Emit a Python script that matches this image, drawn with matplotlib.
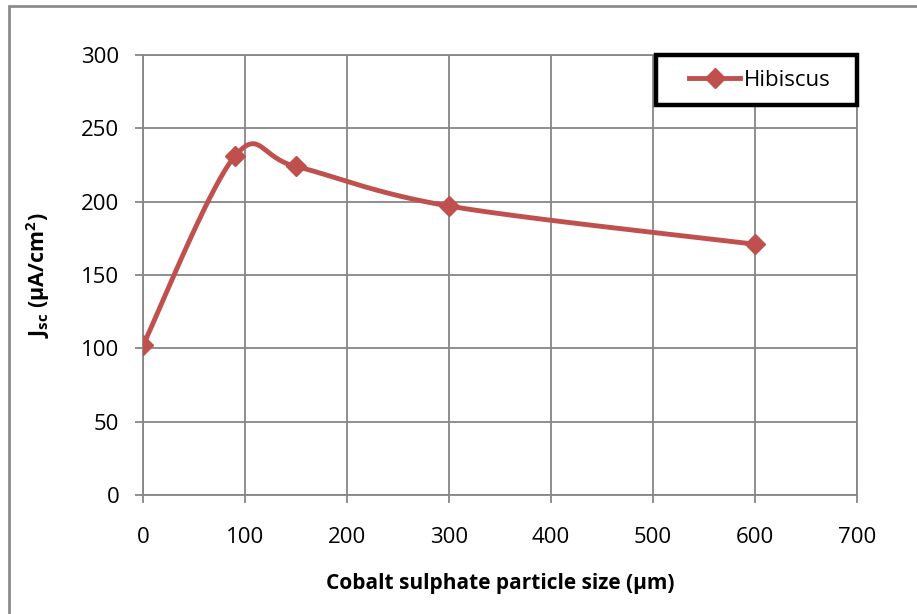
import numpy as np
import matplotlib.pyplot as plt
from matplotlib.patches import Rectangle

# data
size_um = [0, 90, 150, 300, 600]
jsc = [102, 231, 224, 197, 171]
series_name = 'Hibiscus'

plt.rcParams['font.family'] = ['Open Sans', 'DejaVu Sans']
plt.rcParams['mathtext.fontset'] = 'custom'
plt.rcParams['mathtext.rm'] = 'Open Sans'
plt.rcParams['mathtext.bf'] = 'Open Sans:bold'
plt.rcParams['mathtext.it'] = 'Open Sans:italic'


def excel_smooth(x, y, n=60):
    # bezier with Catmull-Rom style control points (like Excel's smoothed line)
    x = np.asarray(x, float)
    y = np.asarray(y, float)
    px = np.concatenate([[x[0]], x, [x[-1]]])
    py = np.concatenate([[y[0]], y, [y[-1]]])
    xs, ys = [], []
    t = np.linspace(0, 1, n)
    for i in range(1, len(px) - 2):
        p0 = np.array([px[i], py[i]])
        p3 = np.array([px[i + 1], py[i + 1]])
        c1 = p0 + (np.array([px[i + 1], py[i + 1]]) - np.array([px[i - 1], py[i - 1]])) / 6
        c2 = p3 - (np.array([px[i + 2], py[i + 2]]) - np.array([px[i], py[i]])) / 6
        b = ((1 - t) ** 3)[:, None] * p0 + (3 * (1 - t) ** 2 * t)[:, None] * c1 \
            + (3 * (1 - t) * t ** 2)[:, None] * c2 + (t ** 3)[:, None] * p3
        xs.extend(b[:, 0])
        ys.extend(b[:, 1])
    return np.array(xs), np.array(ys)


red = '#C0504D'
grey = '#868686'

fig = plt.figure(figsize=(9.17, 6.14), dpi=100)
fig.patches.append(Rectangle((9 / 917, -0.1), 1.2, (1 - 6 / 614) + 0.1,
                             transform=fig.transFigure, fill=False,
                             edgecolor='#8c8c8c', linewidth=2))
ax = fig.add_axes([143 / 917, 1 - 495 / 614, 714 / 917, 440 / 614])

sx, sy = excel_smooth(size_um, jsc)
ax.plot(sx, sy, color=red, linewidth=3.5, solid_capstyle='round', zorder=3)
ax.plot(size_um, jsc, linestyle='none', marker='D', markersize=10,
        color=red, zorder=4)
ax.plot([], [], color=red, linewidth=3.5, marker='D', markersize=10,
        label=series_name)

ax.set_xlim(0, 700)
ax.set_ylim(0, 300)
ax.set_xticks(np.arange(0, 701, 100))
ax.set_yticks(np.arange(0, 301, 50))
ax.grid(True, color=grey, linewidth=1.3)
ax.set_axisbelow(True)
for s in ax.spines.values():
    s.set_color(grey)
    s.set_linewidth(1.3)
ax.tick_params(direction='out', length=6, width=1.3, color=grey,
               labelsize=16)
ax.tick_params(axis='x', pad=17)
ax.tick_params(axis='y', pad=11)

ax.set_xlabel('Cobalt sulphate particle size (µm)', fontsize=15,
              fontweight='bold', labelpad=18)
ax.set_ylabel(r'J$\mathbf{_{sc}}$ (µA/cm$\mathbf{^{2}}$)', fontsize=15.5,
              fontweight='bold', labelpad=21)

# legend box
box_x0 = (656 - 143) / 714
box_y0 = (495 - 105) / 440
ax.add_patch(Rectangle((box_x0, box_y0), 1 - box_x0, 1 - box_y0,
                       transform=ax.transAxes, facecolor='white',
                       edgecolor='black', linewidth=3.2, clip_on=False,
                       zorder=5))
leg = ax.legend(loc='center', bbox_to_anchor=(0.864, 0.943), fontsize=16,
                frameon=False, handlelength=2.3, handletextpad=0.15,
                borderpad=0, borderaxespad=0)
leg.set_zorder(6)

fig.savefig('out.png', dpi=100)
